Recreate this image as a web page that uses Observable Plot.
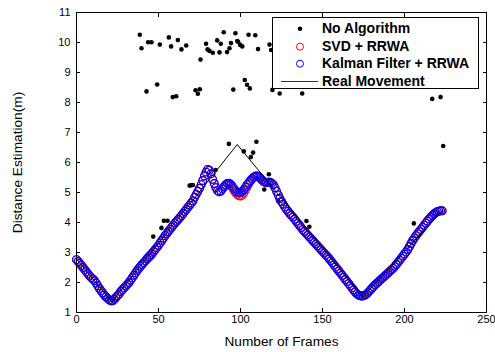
<!DOCTYPE html>
<html>
<head>
<meta charset="utf-8">
<script src="https://cdn.jsdelivr.net/npm/d3@7"></script>
<script src="https://cdn.jsdelivr.net/npm/@observablehq/plot@0.6"></script>
<style>
  html, body { margin: 0; padding: 0; background: white; }
  #wrap { position: relative; width: 495px; height: 352px; font-family: "Liberation Sans", Arial, sans-serif; }
  #legend { position: absolute; left: 272px; top: 17px; width: 207px; height: 72px; border: 1px solid black; background: white; box-sizing: border-box; }
  #legend .row { position: absolute; left: 0; height: 17px; width: 100%; }
  #legend .lab { position: absolute; left: 49px; top: 0; font-weight: bold; font-size: 14px; line-height: 17px; color: black; white-space: nowrap; }
  #legend svg { position: absolute; left: 0; top: 0; }
</style>
</head>
<body>
<div id="wrap"></div>
<script>
// Kalman Filter + RRWA (one value per frame, frames 0..223)
const kalman = [
2.76,2.70,2.64,2.57,2.50,2.43,2.36,2.29,2.22,2.16,2.11,2.06,1.98,1.89,1.80,1.72,1.65,1.58,1.52,1.47,1.42,1.39,1.39,
1.44,1.50,1.56,1.62,1.70,1.76,1.82,1.88,1.94,2.00,2.08,2.16,2.24,2.32,2.40,2.47,2.54,2.60,2.66,2.72,2.80,2.86,2.92,2.98,3.04,3.10,3.17,3.24,3.32,3.40,3.48,3.56,3.63,3.70,3.77,3.84,3.91,3.98,4.04,4.10,4.16,4.23,4.30,4.37,4.44,4.51,4.58,4.65,4.72,
4.84,4.94,5.04,5.14,5.26,5.40,5.55,5.68,5.77,5.74,5.62,5.44,5.30,5.16,5.06,5.02,5.05,5.12,5.20,5.26,5.30,5.31,5.28,5.21,5.13,5.06,5.01,4.99,5.00,5.04,5.10,5.18,5.26,5.33,5.40,5.46,5.51,5.54,5.55,5.53,5.48,5.42,5.37,5.34,5.33,5.34,5.34,5.31,5.26,
5.16,5.04,4.92,4.80,4.70,4.61,4.52,4.44,4.37,4.30,4.24,4.18,4.11,4.04,3.97,3.90,3.83,3.76,3.70,3.64,3.58,3.52,3.46,3.40,3.34,3.28,3.22,3.16,3.10,3.04,2.98,2.92,2.86,2.80,2.73,2.66,2.59,2.52,2.45,2.38,2.31,2.24,2.17,2.10,2.03,1.96,1.89,1.82,1.75,1.68,1.62,1.58,1.56,1.55,1.56,
1.58,1.62,1.68,1.74,1.80,1.86,1.92,1.97,2.02,2.07,2.12,2.17,2.22,2.27,2.32,2.37,2.42,2.47,2.53,2.60,2.67,2.74,2.81,2.88,2.95,3.02,3.10,3.20,3.30,3.40,3.48,3.56,3.63,3.70,3.77,3.84,3.91,3.98,4.05,4.12,4.18,4.24,4.29,4.33,4.36,4.38,4.39,4.39
];
// SVD + RRWA (one value per frame, frames 0..223)
const svd = [
2.76,2.70,2.64,2.57,2.50,2.43,2.36,2.29,2.22,2.16,2.11,2.06,1.98,1.89,1.80,1.72,1.65,1.58,1.52,1.47,1.42,1.39,1.39,
1.44,1.50,1.56,1.62,1.70,1.76,1.82,1.88,1.94,2.00,2.08,2.16,2.24,2.32,2.40,2.47,2.54,2.60,2.66,2.72,2.77,2.82,2.87,2.94,3.02,3.10,3.17,3.24,3.32,3.40,3.48,3.56,3.63,3.70,3.77,3.84,3.91,3.98,4.04,4.10,4.16,4.23,4.30,4.37,4.44,4.51,4.58,4.65,4.72,
4.84,4.94,5.04,5.14,5.26,5.40,5.55,5.68,5.77,5.74,5.62,5.44,5.30,5.16,5.06,5.02,5.05,5.12,5.20,5.26,5.30,5.29,5.24,5.16,5.07,4.99,4.93,4.89,4.88,4.91,4.98,5.08,5.18,5.28,5.37,5.45,5.51,5.54,5.55,5.53,5.48,5.42,5.37,5.34,5.33,5.34,5.34,5.31,5.26,
5.16,5.04,4.92,4.80,4.70,4.61,4.52,4.44,4.37,4.30,4.24,4.18,4.11,4.04,3.97,3.90,3.83,3.76,3.70,3.64,3.58,3.52,3.46,3.40,3.34,3.28,3.22,3.16,3.10,3.04,2.98,2.92,2.86,2.80,2.73,2.66,2.59,2.52,2.45,2.38,2.31,2.24,2.17,2.10,2.03,1.96,1.89,1.82,1.75,1.68,1.62,1.58,1.56,1.55,1.56,
1.58,1.62,1.68,1.74,1.80,1.86,1.92,1.97,2.02,2.07,2.12,2.17,2.22,2.27,2.32,2.37,2.42,2.47,2.53,2.60,2.67,2.74,2.81,2.88,2.95,3.02,3.10,3.20,3.30,3.40,3.48,3.56,3.63,3.70,3.77,3.84,3.91,3.98,4.05,4.12,4.18,4.24,4.29,4.33,4.36,4.38,4.39,4.39
];
// No Algorithm (outlying raw estimates visible in the figure)
const rawFrame = [38.6,39.6,42.7,43.7,45.7,46.8,49.2,50.8,51.8,53.3,55.5,56.3,57.7,58.7,60.8,61.8,64.0,66.9,69.0,70.0,71.0,72.6,74.0,75.2,75.6,79.0,79.9,81.1,83.1,84.8,85.8,87.2,88.0,89.8,91.8,92.9,93.3,94.2,95.6,96.9,98.0,98.6,99.8,101.1,102.0,102.6,104.0,104.9,105.7,106.3,107.7,109.0,109.7,110.7,114.5,117.3,117.7,118.7,119.5,122.9,123.9,137.6,140.2,142.0,205.7,216.9,222.0,223.6];
const rawDist  = [10.26,9.81,8.37,10.01,10.01,3.53,8.60,9.93,3.82,4.06,4.06,10.17,9.87,8.18,8.21,10.08,9.77,9.90,5.23,5.24,5.25,8.41,8.29,8.44,9.43,9.96,9.77,9.72,9.66,5.75,10.07,9.67,9.96,10.34,9.68,6.62,9.81,9.98,8.43,10.31,10.05,10.02,9.92,9.87,6.37,8.75,8.59,10.26,8.47,6.18,6.33,10.24,6.69,9.78,5.10,5.61,9.93,9.75,8.42,4.72,8.30,8.30,4.05,3.86,3.97,8.12,8.18,6.55];
// Real Movement (piecewise straight path)
const realFrame = [0, 21.5, 98, 174.5, 223];
const realDist  = [2.78, 1.35, 6.6, 1.53, 4.38];

const xTicks = [0, 50, 100, 150, 200, 250];
const yTicks = [1, 2, 3, 4, 5, 6, 7, 8, 9, 10, 11];

const kalmanData = kalman.map((v, i) => ({frame: i, v}));
const svdData = svd.map((v, i) => ({frame: i, v}));
const rawData = rawFrame.map((f, i) => ({frame: f, v: rawDist[i]}));
const realData = realFrame.map((f, i) => ({frame: f, v: realDist[i]}));

const chart = Plot.plot({
  width: 495, height: 352,
  marginLeft: 76, marginRight: 9, marginTop: 12, marginBottom: 40,
  style: {fontFamily: "'Liberation Sans', Arial, sans-serif", fontSize: "11px", background: "white", color: "black"},
  x: {domain: [0, 250]},
  y: {domain: [1, 11]},
  marks: [
    Plot.dot(rawData, {x: "frame", y: "v", r: 2.3, fill: "black", stroke: "none"}),
    Plot.dot(svdData, {x: "frame", y: "v", r: 3.9, stroke: "#ff0000", strokeWidth: 1.1, fill: "none"}),
    Plot.dot(kalmanData, {x: "frame", y: "v", r: 3.9, stroke: "#0000ff", strokeWidth: 1.1, fill: "none"}),
    Plot.line(realData, {x: "frame", y: "v", stroke: "black", strokeWidth: 1}),
    Plot.frame({stroke: "black", strokeWidth: 1}),
    Plot.axisX(xTicks, {anchor: "bottom", tickSize: -4, tickPadding: 7, label: "Number of Frames", labelAnchor: "center", labelOffset: 33, labelArrow: "none", fontSize: 11}),
    Plot.axisX(xTicks, {anchor: "top", tickSize: -4, tickFormat: () => "", label: null}),
    Plot.axisY(yTicks, {anchor: "left", tickSize: -4, tickPadding: 10, label: "Distance Estimation(m)", labelAnchor: "center", labelOffset: 64, labelArrow: "none", fontSize: 11}),
    Plot.axisY(yTicks, {anchor: "right", tickSize: -4, tickFormat: () => "", label: null})
  ]
});
const wrap = document.getElementById("wrap");
wrap.appendChild(chart);

chart.querySelectorAll("g[aria-label='x-axis label'] text, g[aria-label='y-axis label'] text").forEach(t => t.setAttribute("font-size", "13.7px"));

// Legend
const legendItems = [
  {label: "No Algorithm", kind: "dot"},
  {label: "SVD + RRWA", kind: "red"},
  {label: "Kalman Filter + RRWA", kind: "blue"},
  {label: "Real Movement", kind: "line"}
];
const legend = document.createElement("div");
legend.id = "legend";
legendItems.forEach((it, i) => {
  const row = document.createElement("div");
  row.className = "row";
  row.style.top = (2 + i * 17.6) + "px";
  let sym;
  if (it.kind === "dot") sym = '<circle cx="27" cy="8.7" r="2.3" fill="black"/>';
  else if (it.kind === "red") sym = '<circle cx="27" cy="8.7" r="3.5" fill="none" stroke="#ff0000"/>';
  else if (it.kind === "blue") sym = '<circle cx="27" cy="8.7" r="3.5" fill="none" stroke="#0000ff"/>';
  else sym = '<line x1="8" x2="45" y1="8.5" y2="8.5" stroke="#333" stroke-width="1"/>';
  row.innerHTML = '<svg width="48" height="17">' + sym + '</svg><span class="lab">' + it.label + '</span>';
  legend.appendChild(row);
});
wrap.appendChild(legend);
</script>
</body>
</html>
